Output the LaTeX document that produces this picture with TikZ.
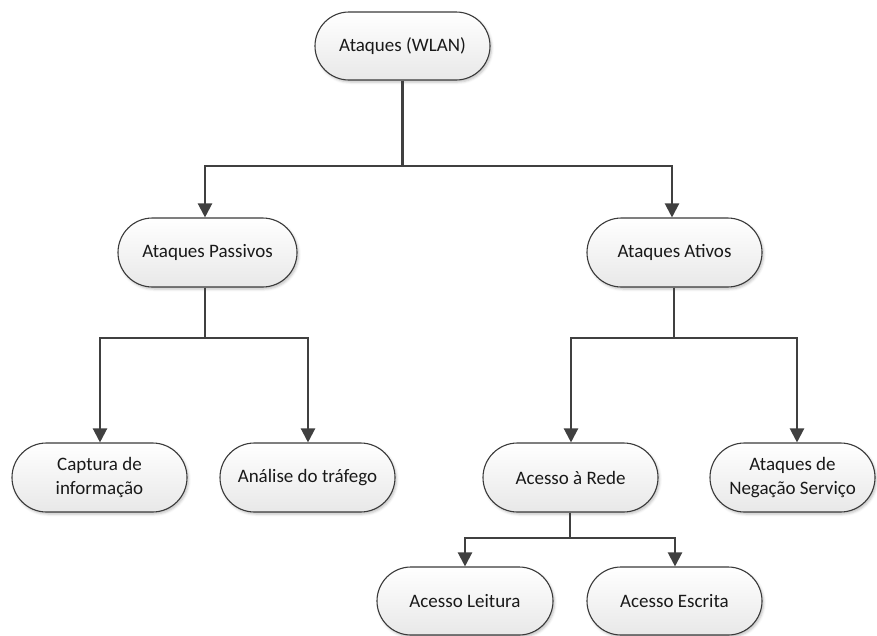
\documentclass[tikz,border=0pt]{standalone}
\usepackage{fontspec}
\setmainfont{Carlito}
\usetikzlibrary{shapes.misc,arrows.meta,shadows.blur}
\definecolor{edge}{HTML}{404040}
\definecolor{rim}{HTML}{3A3A3A}
\begin{document}
\begin{tikzpicture}[x=1pt,y=-1pt,
  term/.style={rounded rectangle, draw=rim, line width=1.1pt,
    minimum width=175pt, minimum height=68pt, inner sep=0pt,
    top color=white, bottom color=black!9,
    blur shadow={shadow xshift=1.5pt, shadow yshift=-2pt,
                 shadow blur radius=2.5pt, shadow opacity=25},
    font=\fontsize{19}{24}\selectfont, align=center, text=black!90},
  link/.style={draw=edge, line width=2.2pt},
  tip/.style={link, -{Triangle[width=14pt,length=14pt]}}]
\useasboundingbox (0,0) rectangle (877,635);

% nodes
\node[term] (wlan) at (402.5,46) {Ataques (WLAN)};
\node[term, minimum width=179pt, minimum height=69pt] (pas) at (207.5,252.5) {Ataques Passivos};
\node[term, minimum height=69pt] (atv) at (674.5,252.5) {Ataques Ativos};
\node[term, minimum height=69pt] (cap) at (99.5,477.5) {Captura de\\informação};
\node[term, minimum height=69pt] (ana) at (307.5,477.5) {Análise do tráfego};
\node[term, minimum height=69pt] (rede) at (570.5,477.5) {Acesso à Rede};
\node[term, minimum width=165pt, minimum height=69pt] (neg) at (792.5,477.5) {Ataques de\\Negação Serviço};
\node[term, minimum width=176pt] (lei) at (465,601) {Acesso Leitura};
\node[term] (esc) at (674.5,601) {Acesso Escrita};

% branch points
\coordinate (w0) at (403,166);
\coordinate (wL) at (205,166);
\coordinate (wR) at (672,166);
\coordinate (p0) at (205,338);
\coordinate (pL) at (100,338);
\coordinate (pR) at (308,338);
\coordinate (a0) at (674,338);
\coordinate (aL) at (571,338);
\coordinate (aR) at (797,338);
\coordinate (r0) at (570,538);
\coordinate (rL) at (465,538);
\coordinate (rR) at (675,538);

% connectors
\draw[link] (wlan.south) -- (wlan.south |- w0);
\draw[tip] (w0) -- (wL) -- (wL |- pas.north);
\draw[tip] (w0) -- (wR) -- (wR |- atv.north);

\draw[link] (pas.south -| p0) -- (p0);
\draw[tip] (p0) -- (pL) -- (pL |- cap.north);
\draw[tip] (p0) -- (pR) -- (pR |- ana.north);

\draw[link] (atv.south -| a0) -- (a0);
\draw[tip] (a0) -- (aL) -- (aL |- rede.north);
\draw[tip] (a0) -- (aR) -- (aR |- neg.north);

\draw[link] (rede.south -| r0) -- (r0);
\draw[tip] (r0) -- (rL) -- (rL |- lei.north);
\draw[tip] (r0) -- (rR) -- (rR |- esc.north);
\end{tikzpicture}
\end{document}
